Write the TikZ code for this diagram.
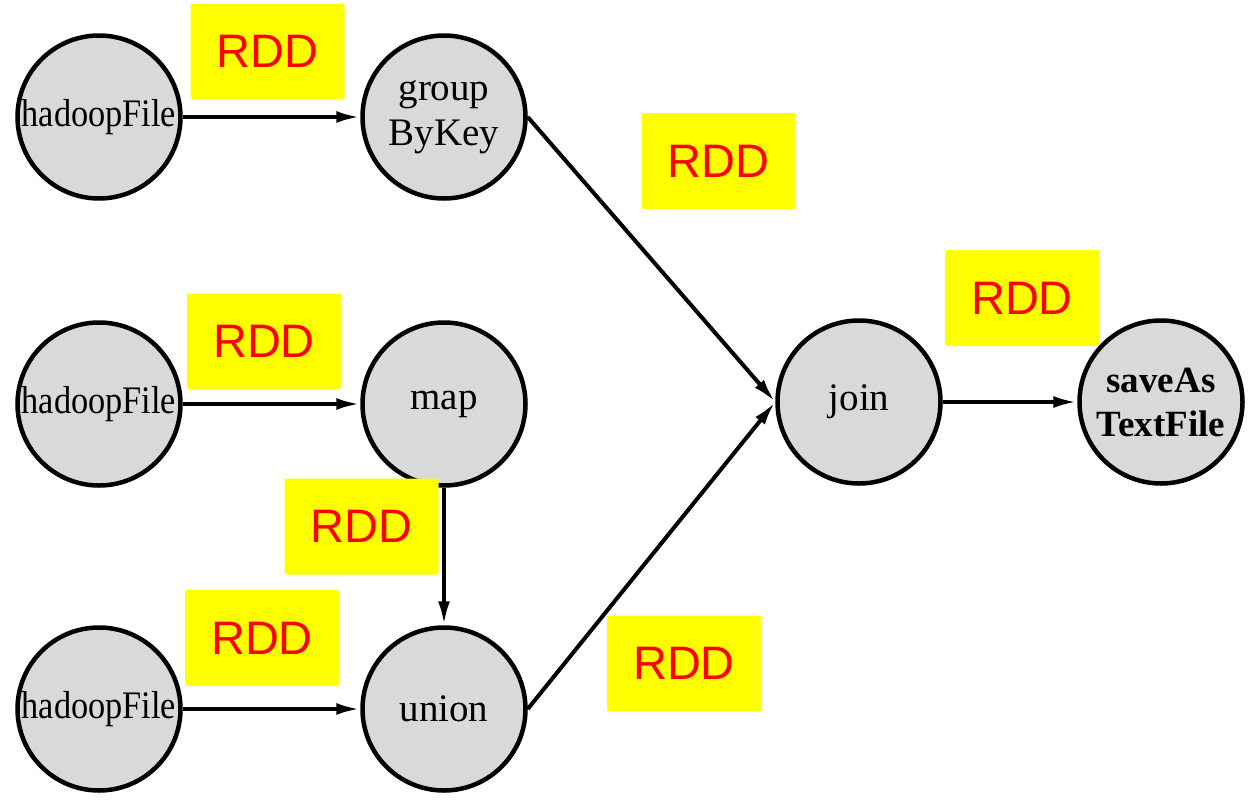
\documentclass[tikz,border=0pt]{standalone}
\usepackage{fontspec}
\usepackage{graphicx}
\setmainfont{Liberation Serif}
\newfontfamily\rddfont{Liberation Sans}
\usetikzlibrary{arrows.meta}
\definecolor{nodegray}{RGB}{217,217,217}
\definecolor{rddyellow}{RGB}{255,255,0}
\definecolor{rddred}{RGB}{255,0,0}
\begin{document}
\begin{tikzpicture}[x=1pt,y=-1pt,
  op/.style={circle, draw=black, line width=4.5pt, fill=nodegray, minimum size=163pt,
    inner sep=0pt, align=center, font=\fontsize{39}{45}\selectfont},
  rdd/.style={fill=rddyellow, rounded corners=2pt, minimum width=154pt, minimum height=96pt,
    inner sep=0pt, text=rddred, font=\rddfont\fontsize{47}{47}\selectfont},
  flow/.style={line width=4pt, -{Latex[length=24pt,width=12pt]}}]
\useasboundingbox (0,0) rectangle (1248,801);
% operation nodes
\node[op] (h1) at (99,117) {\scalebox{0.88}[1]{hadoopFile}};
\node[op] (g)  at (444,117) {group\\ByKey};
\node[op] (h2) at (99,404) {\scalebox{0.88}[1]{hadoopFile}};
\node[op] (m)  at (444,404) {map};
\node[op] (h3) at (99,709) {\scalebox{0.88}[1]{hadoopFile}};
\node[op] (u)  at (444,709) {union};
\node[op] (j)  at (859,402) {join};
\node[op, font=\fontsize{37}{44}\selectfont\bfseries] (s) at (1161,402) {saveAs\\TextFile};
% connectors
\draw[flow] (h1) -- (g);
\draw[flow] (h2) -- (m);
\draw[flow] (h3) -- (u);
\draw[flow] (m) -- (u);
\draw[flow] (g.east) -- (j.west);
\draw[flow] (u.east) -- (j.west);
\draw[flow] (j) -- (s);
% RDD labels
\node[rdd] (r1) at (267.5,51.5) {RDD};
\node[rdd] (r2) at (718.5,161) {RDD};
\node[rdd] (r3) at (1022,298) {RDD};
\node[rdd] (r4) at (264,341.5) {RDD};
\node[rdd] (r5) at (361.5,526.5) {RDD};
\node[rdd] (r6) at (262,638) {RDD};
\node[rdd] (r7) at (684,663.5) {RDD};
\end{tikzpicture}
\end{document}
